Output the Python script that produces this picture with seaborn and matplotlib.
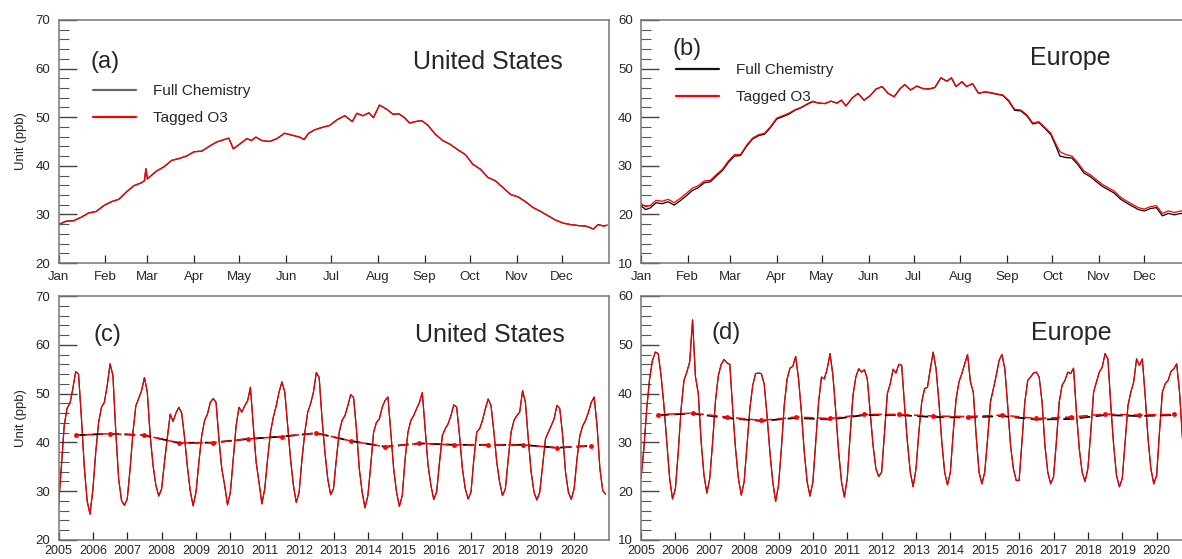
import numpy as np
import pandas as pd
import matplotlib
matplotlib.use("Agg")
import matplotlib.pyplot as plt
import seaborn as sns
from matplotlib.ticker import MultipleLocator
from matplotlib.lines import Line2D

# ------------------------------
# data
# ------------------------------
month_names = ["Jan", "Feb", "Mar", "Apr", "May", "Jun",
               "Jul", "Aug", "Sep", "Oct", "Nov", "Dec"]
years = list(range(2005, 2021))

# (a) United States, daily climatology (day of year, ppb)
us_clim_days = [0, 5, 10, 15, 20, 25, 30, 35, 40, 45,
                50, 55, 57, 58, 59, 60, 65, 70, 75, 80,
                85, 90, 95, 100, 105, 110, 113, 116, 120, 125,
                128, 131, 135, 140, 145, 150, 155, 160, 163, 166,
                170, 175, 180, 185, 190, 195, 198, 202, 206, 209,
                213, 218, 222, 226, 230, 233, 237, 241, 245, 250,
                255, 260, 265, 270, 275, 280, 285, 290, 295, 300,
                305, 310, 315, 320, 325, 330, 335, 340, 345, 350,
                355, 358, 362, 364]
us_clim_o3 = [27.9, 28.6, 28.7, 29.4, 30.3, 30.6, 31.8, 32.6, 33.1, 34.6,
              35.9, 36.5, 36.9, 39.4, 37.3, 37.6, 38.9, 39.8, 41.1, 41.5,
              42.0, 42.9, 43.0, 44.0, 44.9, 45.4, 45.7, 43.5, 44.4, 45.6,
              45.2, 45.9, 45.2, 45.0, 45.6, 46.7, 46.3, 45.9, 45.4, 46.7,
              47.4, 47.9, 48.3, 49.5, 50.3, 49.1, 50.8, 50.3, 50.9, 49.9,
              52.5, 51.6, 50.6, 50.7, 49.8, 48.8, 49.1, 49.3, 48.4, 46.5,
              45.2, 44.4, 43.3, 42.3, 40.3, 39.3, 37.6, 36.9, 35.5, 34.1,
              33.6, 32.6, 31.4, 30.6, 29.7, 28.8, 28.2, 27.9, 27.7, 27.6,
              27.0, 27.9, 27.6, 27.8]

# (b) Europe, daily climatology
eu_clim_days = [0, 3, 6, 10, 14, 18, 22, 26, 30, 34,
                38, 42, 46, 50, 54, 58, 62, 66, 70, 74,
                78, 82, 86, 90, 94, 98, 102, 106, 110, 114,
                118, 122, 126, 130, 133, 136, 140, 144, 148, 152,
                156, 160, 164, 168, 172, 175, 179, 183, 187, 191,
                195, 199, 203, 206, 209, 213, 216, 220, 224, 228,
                232, 236, 240, 244, 248, 252, 256, 260, 264, 268,
                272, 275, 278, 282, 286, 290, 294, 298, 302, 306,
                310, 314, 318, 322, 326, 330, 334, 338, 342, 346,
                350, 354, 358, 361, 364]
eu_clim_tagged = [22.2, 21.6, 21.8, 22.9, 22.7, 23.1, 22.4, 23.3, 24.3, 25.4,
                  25.9, 26.9, 27.0, 28.2, 29.3, 31.0, 32.3, 32.3, 34.2, 35.7,
                  36.4, 36.7, 38.1, 39.8, 40.3, 40.8, 41.5, 42.0, 42.7, 43.3,
                  42.9, 42.8, 43.3, 42.9, 43.5, 42.3, 43.9, 44.9, 43.5, 44.4,
                  45.8, 46.3, 44.9, 44.2, 45.9, 46.7, 45.6, 46.4, 45.9, 45.8,
                  46.1, 48.1, 47.4, 48.1, 46.3, 47.3, 46.3, 46.9, 44.9, 45.2,
                  45.1, 44.8, 44.6, 43.5, 41.6, 41.5, 40.5, 38.8, 39.1, 37.9,
                  36.7, 34.7, 32.9, 32.3, 32.0, 30.6, 28.9, 28.2, 27.2, 26.2,
                  25.5, 24.8, 23.6, 22.8, 22.1, 21.4, 21.1, 21.6, 21.8, 20.2,
                  20.7, 20.4, 20.7, 20.6, 20.5]
eu_clim_full = [21.8, 21.0, 21.3, 22.4, 22.2, 22.6, 21.9, 22.8, 23.8, 24.9,
                25.5, 26.5, 26.7, 27.9, 29.0, 30.7, 32.0, 32.1, 34.0, 35.5,
                36.2, 36.5, 37.9, 39.6, 40.1, 40.6, 41.4, 41.9, 42.6, 43.2,
                42.9, 42.8, 43.3, 42.9, 43.5, 42.3, 43.9, 44.9, 43.5, 44.4,
                45.8, 46.3, 44.9, 44.2, 45.9, 46.7, 45.6, 46.4, 45.9, 45.8,
                46.1, 48.1, 47.4, 48.1, 46.3, 47.3, 46.3, 46.9, 44.9, 45.2,
                45.0, 44.7, 44.5, 43.3, 41.4, 41.3, 40.3, 38.6, 38.9, 37.7,
                36.4, 34.3, 32.0, 31.7, 31.6, 30.2, 28.5, 27.8, 26.8, 25.8,
                25.1, 24.4, 23.2, 22.4, 21.7, 21.0, 20.7, 21.2, 21.4, 19.7,
                20.2, 19.9, 20.2, 20.1, 20.0]

# (c) United States, monthly means 2005-2020 (one row per year, Jan..Dec)
us_monthly = [
    [27.1, 35.0, 43.5, 47.0, 48.0, 51.0, 54.5, 54.0, 45.0, 35.0, 28.0, 25.3],  # 2005
    [30.3, 38.0, 44.1, 47.2, 48.2, 51.6, 56.1, 53.7, 42.1, 32.5, 28.1, 27.1],  # 2006
    [28.4, 34.6, 42.1, 47.5, 49.0, 50.6, 53.3, 50.3, 41.4, 35.3, 31.2, 29.0],  # 2007
    [30.5, 36.0, 41.0, 45.8, 44.3, 46.0, 47.2, 46.0, 41.0, 35.0, 30.0, 27.0],  # 2008
    [29.8, 35.9, 41.4, 44.5, 45.8, 48.2, 49.0, 48.2, 40.7, 34.6, 31.2, 27.2],  # 2009
    [29.8, 36.6, 43.4, 47.2, 46.2, 47.5, 48.5, 51.3, 43.4, 35.9, 31.8, 27.4],  # 2010
    [30.5, 36.6, 42.1, 45.2, 47.5, 50.3, 52.4, 50.3, 43.4, 36.6, 31.2, 27.7],  # 2011
    [29.8, 36.6, 42.1, 46.2, 47.9, 50.3, 54.3, 53.3, 44.8, 38.0, 32.5, 29.3],  # 2012
    [30.5, 36.6, 42.1, 44.5, 45.5, 47.5, 49.8, 49.2, 42.8, 34.6, 29.8, 26.6],  # 2013
    [29.1, 35.3, 42.1, 44.1, 44.8, 47.2, 48.6, 49.3, 42.1, 34.6, 29.8, 26.9],  # 2014
    [29.1, 36.6, 42.1, 44.5, 45.5, 46.9, 48.2, 50.2, 42.8, 35.3, 31.2, 28.3],  # 2015
    [29.8, 35.9, 41.4, 42.8, 43.8, 45.5, 47.7, 47.2, 41.4, 34.6, 30.5, 28.4],  # 2016
    [29.8, 36.6, 42.1, 42.8, 44.5, 46.9, 48.9, 47.5, 42.1, 35.9, 31.8, 29.1],  # 2017
    [30.5, 36.6, 42.1, 44.5, 45.5, 46.2, 50.6, 48.2, 40.7, 33.9, 29.8, 28.2],  # 2018
    [29.8, 35.3, 40.7, 42.1, 43.4, 44.8, 47.6, 46.9, 41.4, 33.9, 29.8, 28.3],  # 2019
    [30.5, 36.6, 41.4, 43.4, 44.5, 46.2, 48.2, 49.3, 43.4, 34.6, 30.1, 29.4],  # 2020
]
us_annual_full = [41.45, 41.8, 41.45, 39.9, 39.95, 40.7, 41.2, 41.9,
                  40.3, 39.1, 39.8, 39.5, 39.5, 39.5, 38.9, 39.3]
us_annual_tagged = [41.45, 41.8, 41.45, 39.9, 39.95, 40.7, 41.2, 41.9,
                    40.3, 39.1, 39.8, 39.5, 39.5, 39.5, 38.9, 39.3]

# (d) Europe, monthly means 2005-2020
eu_monthly = [
    [22.6, 28.7, 36.9, 43.0, 46.8, 48.5, 48.2, 43.7, 37.6, 30.1, 22.6, 18.4],  # 2005
    [20.5, 28.0, 36.9, 42.7, 44.4, 46.5, 55.1, 43.5, 40.0, 30.1, 23.2, 19.6],  # 2006
    [22.6, 30.0, 38.5, 43.7, 46.0, 47.0, 46.3, 46.0, 36.9, 28.7, 22.6, 19.2],  # 2007
    [21.9, 29.4, 36.9, 41.7, 44.1, 44.2, 44.1, 42.0, 35.5, 28.0, 21.9, 17.9],  # 2008
    [21.2, 28.7, 37.6, 43.0, 45.2, 45.6, 47.6, 43.0, 36.2, 28.0, 21.9, 19.0],  # 2009
    [21.9, 30.1, 38.3, 43.4, 43.0, 45.1, 48.2, 43.7, 36.2, 28.0, 21.9, 18.8],  # 2010
    [22.6, 31.4, 39.6, 43.4, 45.1, 44.4, 44.9, 43.0, 36.2, 29.4, 24.6, 23.0],  # 2011
    [23.9, 32.1, 40.0, 42.0, 45.0, 44.2, 46.0, 45.8, 37.6, 30.1, 23.9, 20.9],  # 2012
    [24.6, 32.1, 38.3, 41.0, 41.3, 45.1, 48.5, 45.1, 38.3, 30.1, 23.9, 21.3],  # 2013
    [23.9, 32.1, 38.9, 42.4, 44.1, 46.1, 48.0, 42.4, 40.3, 31.4, 23.9, 21.5],  # 2014
    [23.9, 30.8, 38.3, 41.0, 43.7, 46.8, 48.0, 45.1, 37.6, 29.4, 24.6, 22.2],  # 2015
    [22.2, 30.1, 38.3, 42.7, 43.4, 44.2, 44.4, 43.4, 38.3, 29.4, 23.9, 21.5],  # 2016
    [22.9, 30.1, 38.3, 41.7, 42.7, 44.4, 44.1, 45.2, 36.2, 28.7, 23.9, 22.0],  # 2017
    [24.6, 32.1, 40.3, 42.4, 44.4, 45.4, 48.2, 47.1, 37.6, 29.4, 23.2, 20.9],  # 2018
    [22.6, 30.1, 37.6, 40.3, 42.4, 47.1, 45.8, 47.1, 39.6, 30.8, 24.6, 21.5],  # 2019
    [23.2, 32.1, 40.3, 42.0, 42.7, 44.5, 45.1, 46.1, 40.3, 31.0, 24.0, 21.5],  # 2020
]
eu_annual_full = [35.6, 35.9, 35.0, 34.4, 35.0, 34.7, 35.6, 35.6,
                  35.2, 35.1, 35.4, 34.7, 34.8, 35.6, 35.4, 35.6]
eu_annual_tagged = [35.7, 36.0, 35.2, 34.5, 35.2, 34.9, 35.75, 35.75,
                    35.4, 35.3, 35.6, 34.9, 35.2, 35.8, 35.6, 35.75]

# ------------------------------
# tidy tables
# ------------------------------
us_clim = pd.DataFrame({"day": us_clim_days, "o3": us_clim_o3})
eu_clim = pd.DataFrame({"day": eu_clim_days, "full": eu_clim_full,
                        "tagged": eu_clim_tagged})


def monthly_frame(rows):
    recs = []
    for yr, vals in zip(years, rows):
        for m, v in enumerate(vals):
            recs.append({"t": yr + m / 12.0, "o3": v})
    return pd.DataFrame(recs)


us_mon = monthly_frame(us_monthly)
eu_mon = monthly_frame(eu_monthly)
annual_t = [y + 0.5 for y in years]

# ------------------------------
# figure
# ------------------------------
sns.set_theme(style="white")
plt.rcParams["font.family"] = ["Liberation Sans", "DejaVu Sans"]

W, H = 1182, 559
fig = plt.figure(figsize=(W / 100, H / 100), dpi=100)
ax_a = fig.add_axes([58.5 / W, 1 - 263 / H, 550 / W, 243 / H])
ax_b = fig.add_axes([641 / W, 1 - 263 / H, 550 / W, 243 / H])
ax_c = fig.add_axes([58.5 / W, 1 - 540 / H, 550 / W, 244 / H])
ax_d = fig.add_axes([641 / W, 1 - 540 / H, 550 / W, 244 / H])

RED = "#ff0000"
month_starts = list(pd.date_range("2021-01-01", periods=12, freq="MS").dayofyear - 1)


def style(ax, ylim, xpad, xsize):
    ax.set_ylim(*ylim)
    ax.yaxis.set_major_locator(MultipleLocator(10))
    ax.yaxis.set_minor_locator(MultipleLocator(2))
    ax.tick_params(axis="y", which="major", direction="in", length=13, width=1.0,
                   color="#444444", labelsize=9.5, pad=6, left=True, right=False)
    ax.tick_params(axis="y", which="minor", direction="in", length=7, width=0.8,
                   color="#555555", left=True, right=False)
    ax.tick_params(axis="x", which="major", direction="in", length=6, width=0.9,
                   color="#222222", labelsize=xsize, pad=xpad, bottom=True, top=False)
    for s in ax.spines.values():
        s.set_color("#777777")
        s.set_linewidth(1.1)
    ax.set_xlabel("")
    ax.set_ylabel("")


# (a) / (b) daily climatology
sns.lineplot(data=us_clim, x="day", y="o3", ax=ax_a, color="#333333",
             linewidth=1.0, estimator=None)
sns.lineplot(data=us_clim, x="day", y="o3", ax=ax_a, color=RED,
             linewidth=0.9, estimator=None)
sns.lineplot(data=eu_clim, x="day", y="full", ax=ax_b, color="black",
             linewidth=0.9, estimator=None)
sns.lineplot(data=eu_clim, x="day", y="tagged", ax=ax_b, color=RED,
             linewidth=0.9, estimator=None)

for ax, ylim in [(ax_a, (20, 70)), (ax_b, (10, 60))]:
    ax.set_xlim(0, 365)
    ax.set_xticks(month_starts)
    ax.set_xticklabels(month_names)
    style(ax, ylim, xpad=6, xsize=9.5)

# (c) / (d) monthly series + annual means
for ax, mon, ann_f, ann_t, ylim in [(ax_c, us_mon, us_annual_full, us_annual_tagged, (20, 70)),
                                    (ax_d, eu_mon, eu_annual_full, eu_annual_tagged, (10, 60))]:
    sns.lineplot(data=mon, x="t", y="o3", ax=ax, color="black", linewidth=0.8,
                 estimator=None)
    sns.lineplot(data=mon, x="t", y="o3", ax=ax, color=RED, linewidth=0.9,
                 alpha=0.9, estimator=None)
    sns.lineplot(x=annual_t, y=ann_f, ax=ax, color="black", linewidth=1.3,
                 linestyle=(0, (6, 3)), estimator=None)
    sns.lineplot(x=annual_t, y=ann_t, ax=ax, color=RED, linewidth=1.1,
                 linestyle=(3, (6, 3)), marker="o", markersize=3.5,
                 markeredgewidth=0, estimator=None)
    ax.set_xlim(2005, 2021)
    ax.set_xticks(years)
    ax.set_xticklabels([str(y) for y in years])
    style(ax, ylim, xpad=3.6, xsize=9)

for ax in (ax_a, ax_c):
    ax.set_ylabel("Unit (ppb)", fontsize=9.5)
    ax.yaxis.set_label_coords(-0.058, 0.5)

# panel labels
ax_a.text(0.0587, 0.827, "(a)", transform=ax_a.transAxes, fontsize=17, va="center")
ax_a.text(0.917, 0.827, "United States", transform=ax_a.transAxes, fontsize=18,
          va="center", ha="right")
ax_b.text(0.057, 0.88, "(b)", transform=ax_b.transAxes, fontsize=17, va="center")
ax_b.text(0.853, 0.843, "Europe", transform=ax_b.transAxes, fontsize=18,
          va="center", ha="right")
ax_c.text(0.063, 0.84, "(c)", transform=ax_c.transAxes, fontsize=17, va="center")
ax_c.text(0.92, 0.84, "United States", transform=ax_c.transAxes, fontsize=18,
          va="center", ha="right")
ax_d.text(0.128, 0.848, "(d)", transform=ax_d.transAxes, fontsize=17, va="center")
ax_d.text(0.855, 0.848, "Europe", transform=ax_d.transAxes, fontsize=18,
          va="center", ha="right")

# legends
labels = ["Full Chemistry", "Tagged O3"]
for ax, full_col, anchor in [(ax_a, "#666666", (0.063, 0.735)),
                             (ax_b, "#111111", (0.0635, 0.823))]:
    handles = [Line2D([], [], color=full_col, lw=1.6), Line2D([], [], color=RED, lw=1.6)]
    ax.legend(handles, labels, loc="upper left", bbox_to_anchor=anchor,
              frameon=False, borderpad=0, borderaxespad=0, handlelength=2.8,
              handletextpad=1.1, labelspacing=0.85, fontsize=11)

fig.savefig("out.png", dpi=100)
